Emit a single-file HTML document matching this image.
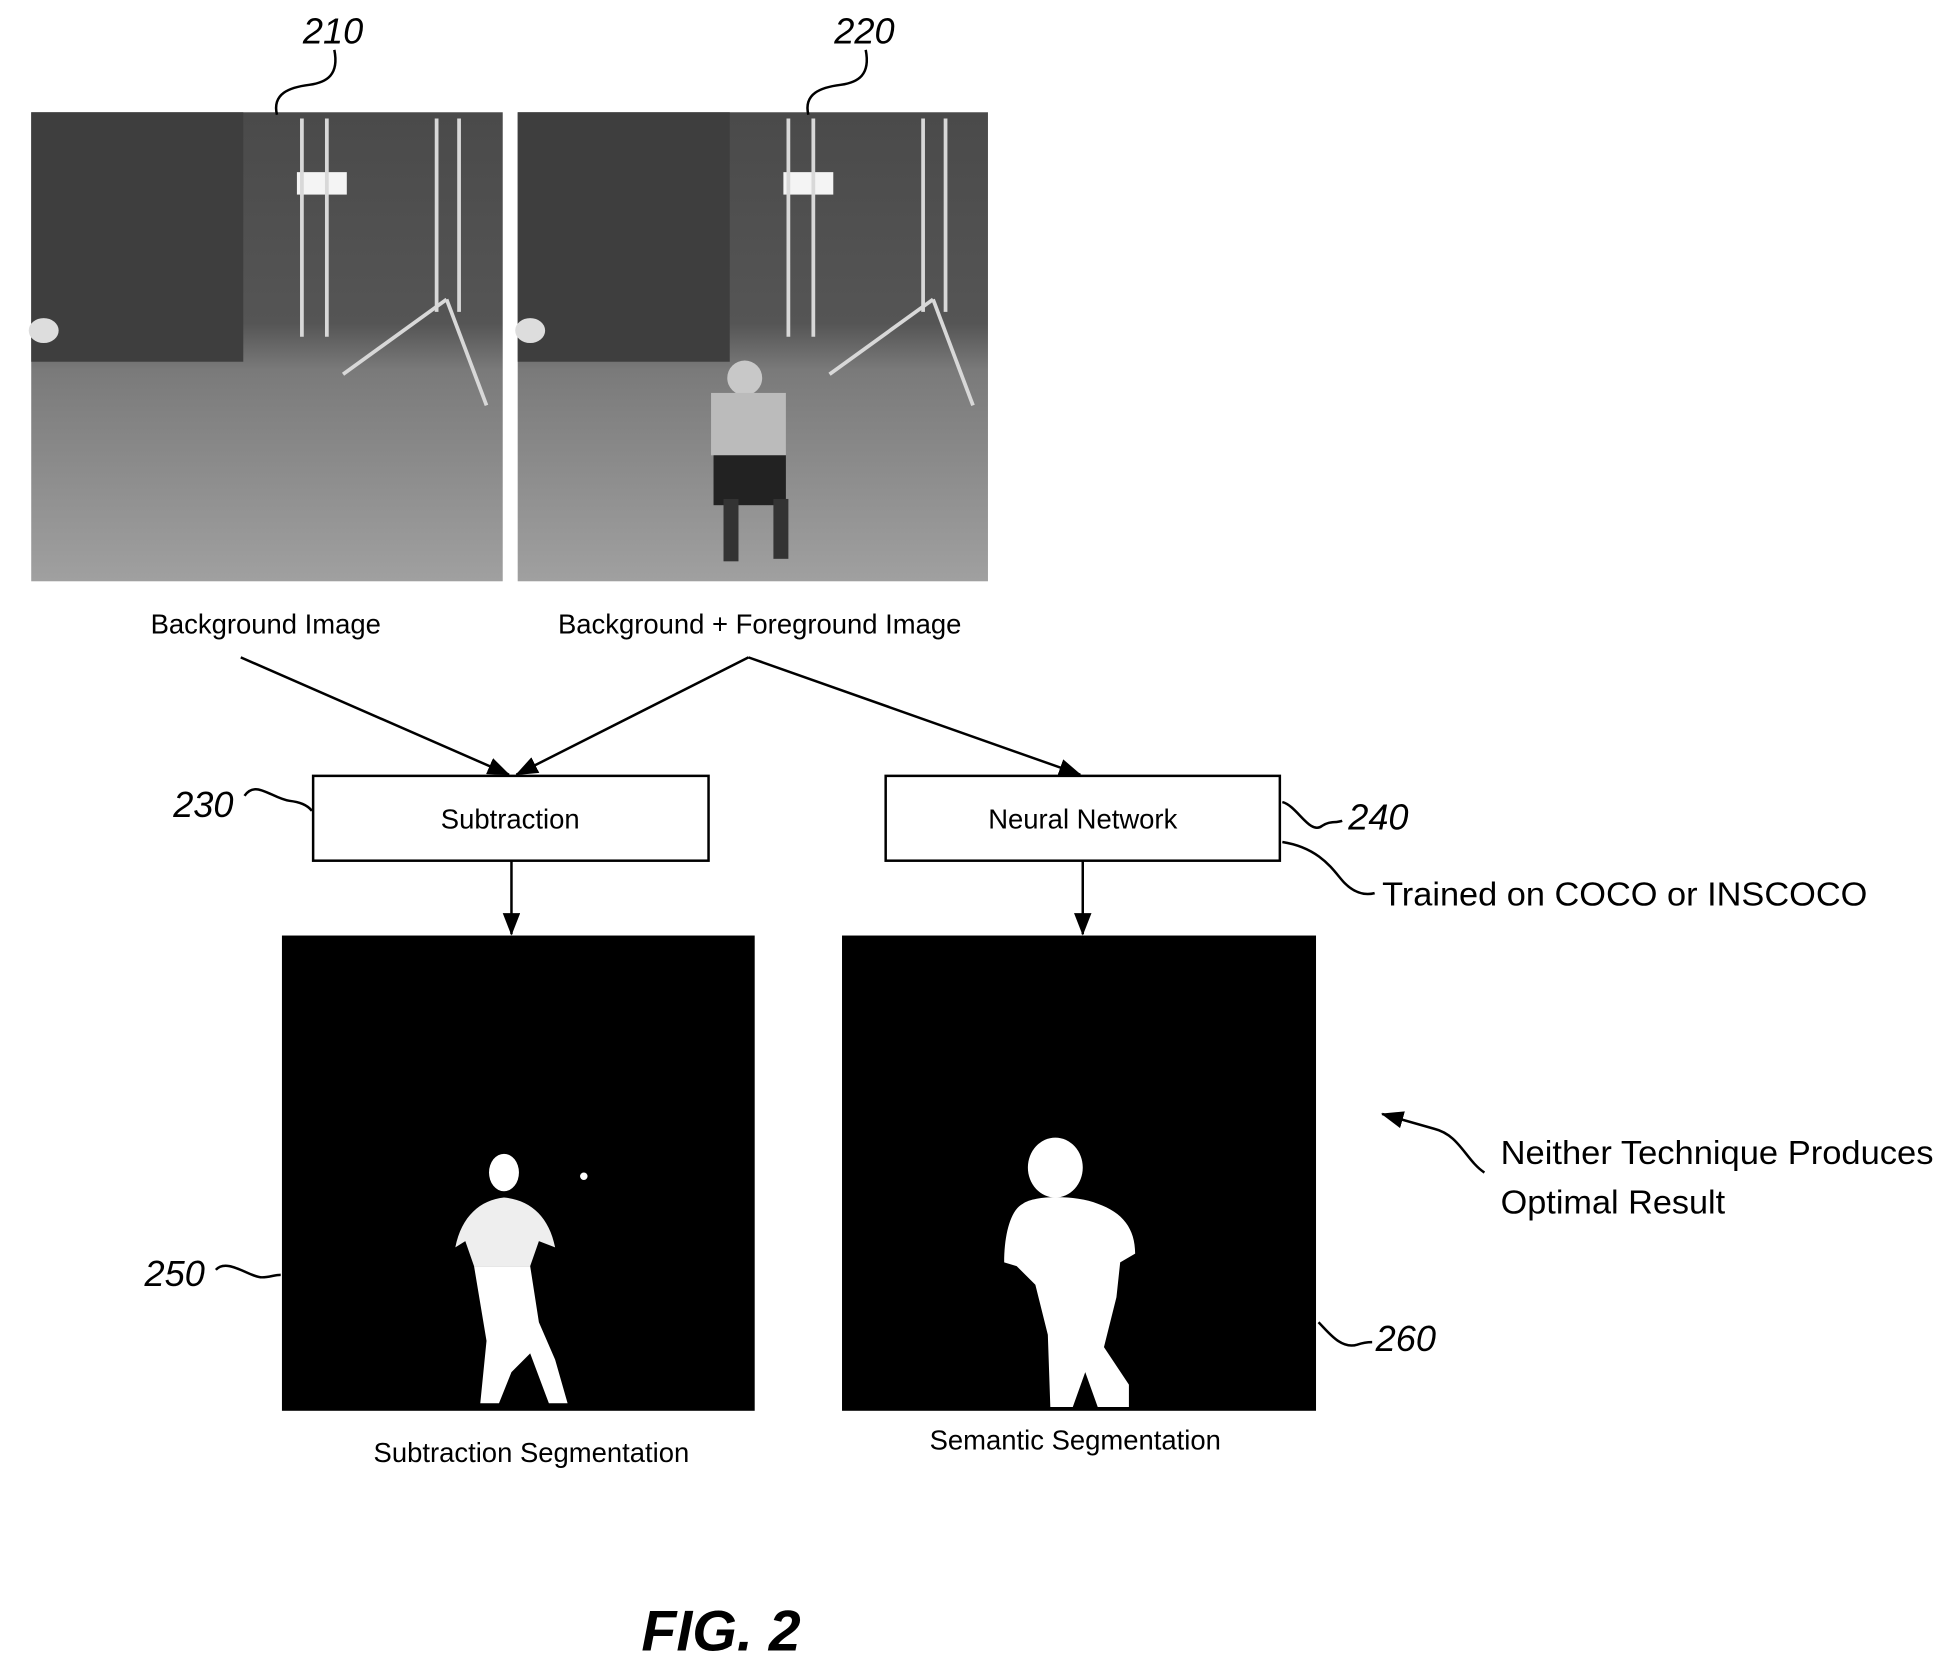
<!DOCTYPE html>
<html><head><meta charset="utf-8"><style>html,body{margin:0;padding:0;background:#fff}svg{display:block}</style></head>
<body>
<svg width="1936" height="1664" viewBox="0 0 1552 1334" xmlns="http://www.w3.org/2000/svg" font-family="Liberation Sans, sans-serif">
<defs>
<linearGradient id="g1" x1="0" y1="0" x2="0" y2="1">
<stop offset="0" stop-color="#4a4a4a"/><stop offset="0.45" stop-color="#555"/><stop offset="0.55" stop-color="#7a7a7a"/><stop offset="1" stop-color="#a0a0a0"/>
</linearGradient>
<marker id="ah2" markerWidth="18" markerHeight="14" refX="17" refY="7" orient="auto" markerUnits="userSpaceOnUse" viewBox="0 0 18 14"><path d="M0,0 L18,7 L0,14 z" fill="#000"/></marker>
</defs>
<!-- photo 210 -->
<rect x="25" y="90" width="378" height="376" fill="url(#g1)"/>
<rect x="25" y="90" width="170" height="200" fill="#3e3e3e"/>
<rect x="238" y="138" width="40" height="18" fill="#f4f4f4"/>
<g stroke="#d8d8d8" stroke-width="3" fill="none">
<line x1="242" y1="95" x2="242" y2="270"/><line x1="262" y1="95" x2="262" y2="270"/>
<line x1="350" y1="95" x2="350" y2="250"/><line x1="368" y1="95" x2="368" y2="250"/>
<line x1="358" y1="240" x2="275" y2="300"/><line x1="358" y1="240" x2="390" y2="325"/>
</g>
<ellipse cx="35" cy="265" rx="12" ry="10" fill="#ddd"/>
<!-- photo 220 -->
<rect x="415" y="90" width="377" height="376" fill="url(#g1)"/>
<rect x="415" y="90" width="170" height="200" fill="#3e3e3e"/>
<rect x="628" y="138" width="40" height="18" fill="#f4f4f4"/>
<g stroke="#d8d8d8" stroke-width="3" fill="none">
<line x1="632" y1="95" x2="632" y2="270"/><line x1="652" y1="95" x2="652" y2="270"/>
<line x1="740" y1="95" x2="740" y2="250"/><line x1="758" y1="95" x2="758" y2="250"/>
<line x1="748" y1="240" x2="665" y2="300"/><line x1="748" y1="240" x2="780" y2="325"/>
</g>
<ellipse cx="425" cy="265" rx="12" ry="10" fill="#ddd"/>
<ellipse cx="597" cy="303" rx="14" ry="14" fill="#c8c8c8"/>
<rect x="570" y="315" width="60" height="50" fill="#bbb"/>
<rect x="572" y="365" width="58" height="40" fill="#222"/>
<rect x="580" y="400" width="12" height="50" fill="#333"/><rect x="620" y="400" width="12" height="48" fill="#333"/>
<!-- ref labels -->
<g font-style="italic" font-size="29" fill="#000">
<text x="267" y="35" text-anchor="middle">210</text>
<text x="693" y="35" text-anchor="middle">220</text>
<text x="163" y="655" text-anchor="middle">230</text>
<text x="1105" y="665" text-anchor="middle">240</text>
<text x="140" y="1031" text-anchor="middle">250</text>
<text x="1127" y="1083" text-anchor="middle">260</text>
</g>
<g stroke="#000" stroke-width="2" fill="none">
<path d="M222,92 C218,75 232,70 248,68 C262,66 272,60 268,40"/>
<path d="M648,92 C644,75 658,70 674,68 C688,66 698,60 694,40"/>
<path d="M196,638 C205,625 218,640 232,642 C240,643 246,645 250,650"/>
<path d="M1028,643 C1040,646 1050,670 1060,662 C1066,658 1070,660 1076,658"/>
<path d="M1028,675 C1060,680 1070,700 1078,708 C1086,716 1094,718 1102,716"/>
<path d="M173,1018 C182,1008 200,1024 210,1024 C216,1024 220,1022 225,1022"/>
<path d="M1057,1060 C1065,1068 1075,1082 1088,1078 C1094,1076 1098,1076 1100,1076"/>
</g>
<!-- boxes -->
<rect x="251" y="622" width="317" height="68" fill="#fff" stroke="#000" stroke-width="2"/>
<rect x="710" y="622" width="316" height="68" fill="#fff" stroke="#000" stroke-width="2"/>
<!-- captions -->
<g font-size="22" fill="#000">
<text x="213" y="508" text-anchor="middle">Background Image</text>
<text x="609" y="508" text-anchor="middle">Background + Foreground Image</text>
<text x="426" y="1172" text-anchor="middle">Subtraction Segmentation</text>
<text x="862" y="1162" text-anchor="middle">Semantic Segmentation</text>
<text x="409" y="664" text-anchor="middle">Subtraction</text>
<text x="868" y="664" text-anchor="middle">Neural Network</text>
</g>
<g font-size="27" fill="#000">
<text x="1108" y="726" textLength="389" lengthAdjust="spacingAndGlyphs">Trained on COCO or INSCOCO</text>
<text x="1203" y="933" textLength="347" lengthAdjust="spacingAndGlyphs">Neither Technique Produces</text>
<text x="1203" y="973" textLength="180" lengthAdjust="spacingAndGlyphs">Optimal Result</text>
</g>
<text x="578" y="1323" text-anchor="middle" font-size="46" font-weight="bold" font-style="italic">FIG. 2</text>
<!-- arrows -->
<g stroke="#000" stroke-width="2" fill="none">
<line x1="193" y1="527" x2="408" y2="621" marker-end="url(#ah2)"/>
<line x1="600" y1="527" x2="414" y2="621" marker-end="url(#ah2)"/>
<line x1="600" y1="527" x2="866" y2="621" marker-end="url(#ah2)"/>
<line x1="410" y1="690" x2="410" y2="749" marker-end="url(#ah2)"/>
<line x1="868" y1="690" x2="868" y2="749" marker-end="url(#ah2)"/>
<path d="M1190,940 C1175,930 1170,910 1150,905 L1108,893" marker-end="url(#ah2)"/>
</g>
<!-- seg images -->
<rect x="226" y="750" width="379" height="381" fill="#000"/>
<rect x="675" y="750" width="380" height="381" fill="#000"/>
<g fill="#fff">
<ellipse cx="404" cy="940" rx="12" ry="15"/>
<path d="M365,1000 C370,975 385,962 404,960 C425,962 440,975 445,1000 L432,995 L425,1015 L380,1015 L373,995 z" fill="#eee"/>
<path d="M380,1015 L425,1015 L432,1060 L445,1090 L455,1125 L440,1125 L425,1085 L410,1100 L400,1125 L385,1125 L390,1075 z"/>
<circle cx="468" cy="943" r="3"/>
<ellipse cx="846" cy="936" rx="22" ry="24"/>
<path d="M820,965 C830,958 862,958 880,965 C900,972 910,985 910,1005 L898,1012 L895,1040 L885,1080 L905,1110 L905,1128 L880,1128 L870,1100 L860,1128 L842,1128 L840,1070 L830,1030 L815,1015 L805,1012 C805,990 810,970 820,965 z"/>
</g>
</svg>
</body></html>
